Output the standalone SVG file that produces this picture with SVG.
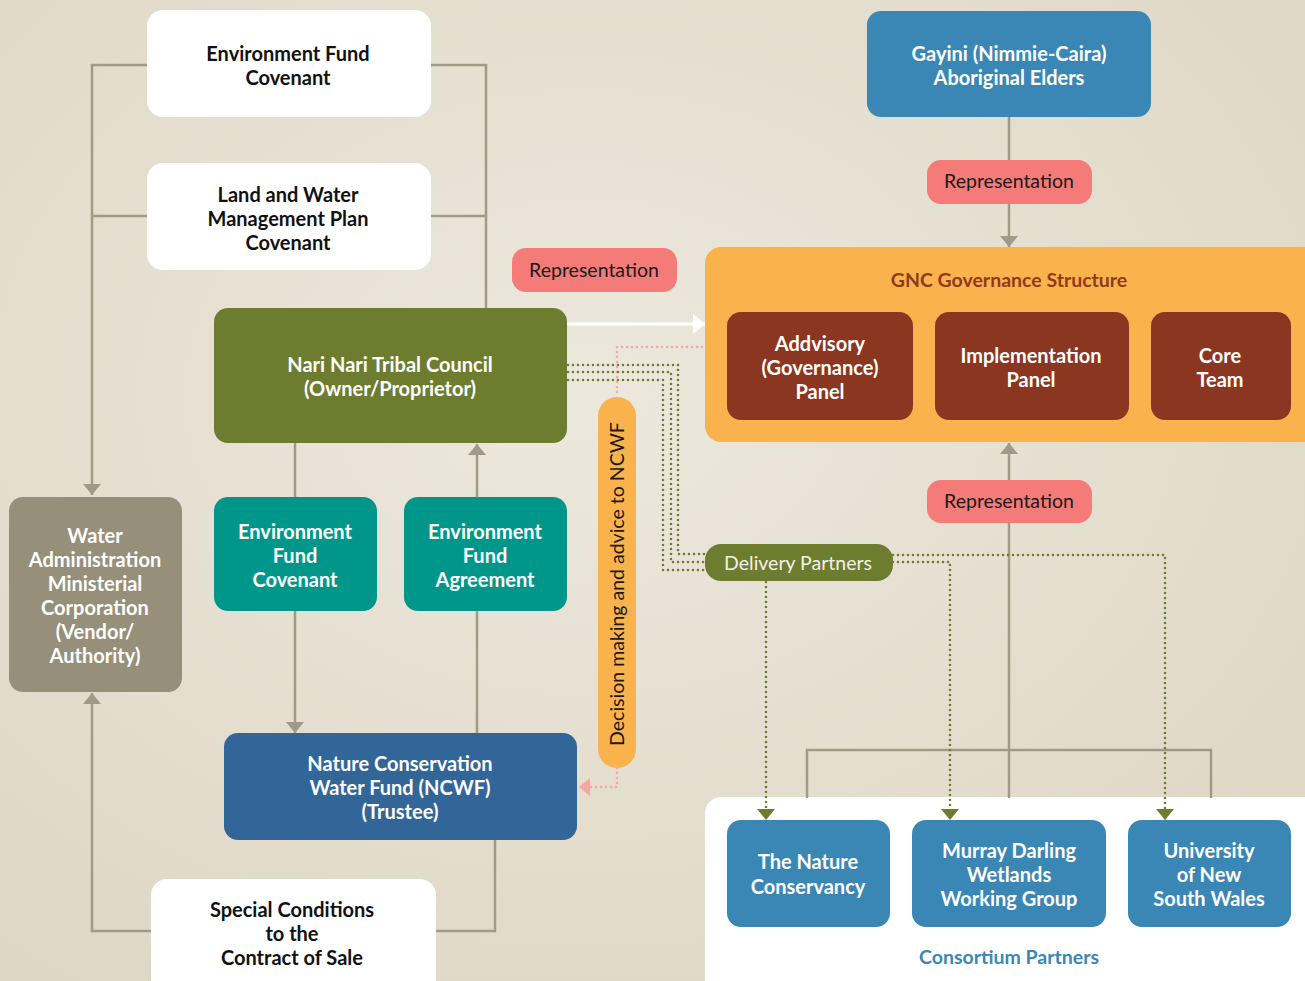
<svg xmlns="http://www.w3.org/2000/svg" width="1305" height="981" viewBox="0 0 1305 981">
<defs>
<style>
text{font-family:Lato,"Open Sans","Liberation Sans",sans-serif;text-anchor:middle}
.b{font-weight:700;font-size:20px}
.w{fill:#ffffff}
.k{fill:#111111}
.r{font-size:19.5px;fill:#1a1a1a}
.gl{fill:none;stroke:#a09b86;stroke-width:2.5}
.gd{fill:none;stroke:#6e7c2f;stroke-width:2.6;stroke-dasharray:0 5;stroke-linecap:round}
.pd{fill:none;stroke:#f6a7a4;stroke-width:2.6;stroke-dasharray:0 5;stroke-linecap:round}
</style>
<marker id="ag" markerUnits="userSpaceOnUse" markerWidth="12" markerHeight="20" refX="11" refY="9" orient="auto"><path d="M0,0 L11,9 L0,18 z" fill="#a09b86"/></marker>
<marker id="agr" markerUnits="userSpaceOnUse" markerWidth="12" markerHeight="20" refX="11" refY="9" orient="auto"><path d="M0,0 L11,9 L0,18 z" fill="#6e7c2f"/></marker>
<marker id="ap" markerUnits="userSpaceOnUse" markerWidth="12" markerHeight="20" refX="11" refY="9" orient="auto"><path d="M0,0 L11,9 L0,18 z" fill="#f6a7a4"/></marker>
<marker id="aw" markerUnits="userSpaceOnUse" markerWidth="13" markerHeight="22" refX="12" refY="10" orient="auto"><path d="M0,0 L12,10 L0,20 z" fill="#ffffff"/></marker>
<radialGradient id="bg" cx="0.45" cy="0.4" r="0.8"><stop offset="0" stop-color="#ece8dd"/><stop offset="1" stop-color="#ddd5c3"/></radialGradient>
</defs>
<rect width="1305" height="981" fill="url(#bg)"/>

<g id="consortium-partners">
<rect x="705" y="797" width="640" height="220" rx="16" fill="#ffffff"/>
<text x="1009" y="964" style="font-weight:700;font-size:19.5px;fill:#3a87b5">Consortium Partners</text>
</g>

<g id="connectors">
<path class="gl" d="M147,65 H92 V495" marker-end="url(#ag)"/>
<path class="gl" d="M147,216 H92"/>
<path class="gl" d="M431,65 H486 V308"/>
<path class="gl" d="M431,216 H486"/>
<path class="gl" d="M295,443 V733" marker-end="url(#ag)"/>
<path class="gl" d="M477,733 V444" marker-end="url(#ag)"/>
<path class="gl" d="M495,840 V931 H436"/>
<path class="gl" d="M151,931 H92 V693" marker-end="url(#ag)"/>
<path class="gl" d="M1009,117 V247" marker-end="url(#ag)"/>
<path class="gl" d="M1009,798 V443" marker-end="url(#ag)"/>
<path class="gl" d="M807,798 V750 H1211 V798"/>
<path d="M567,324 H705" fill="none" stroke="#ffffff" stroke-width="3" marker-end="url(#aw)"/>
<path class="pd" d="M717,347 H617 V397"/>
<path class="pd" d="M617,768 V787 H579" marker-end="url(#ap)"/>
<path class="gd" d="M568,365 H678 V554 H705"/>
<path class="gd" d="M568,372 H671 V562 H705"/>
<path class="gd" d="M568,380 H663 V570 H705"/>
<path class="gd" d="M766,582 V820" marker-end="url(#agr)"/>
<path class="gd" d="M893,562 H950 V820" marker-end="url(#agr)"/>
<path class="gd" d="M893,555 H1165 V820" marker-end="url(#agr)"/>
</g>

<g id="env-fund-covenant-top">
<rect x="147" y="10" width="284" height="107" rx="16" fill="#ffffff"/>
<text class="b k" x="288" y="61">Environment Fund</text>
<text class="b k" x="288" y="85">Covenant</text>
</g>

<g id="land-water-covenant">
<rect x="147" y="163" width="284" height="107" rx="16" fill="#ffffff"/>
<text class="b k" x="288" y="202">Land and Water</text>
<text class="b k" x="288" y="226">Management Plan</text>
<text class="b k" x="288" y="250">Covenant</text>
</g>

<g id="representation-left">
<rect x="512" y="248" width="165" height="44" rx="14" fill="#f47b78"/>
<text class="r" x="594" y="277">Representation</text>
</g>

<g id="nari-nari">
<rect x="214" y="308" width="353" height="135" rx="14" fill="#6e7c2f"/>
<text class="b w" x="390" y="372">Nari Nari Tribal Council</text>
<text class="b w" x="390" y="396">(Owner/Proprietor)</text>
</g>

<g id="gayini">
<rect x="867" y="11" width="284" height="106" rx="14" fill="#3a87b5"/>
<text class="b w" x="1009" y="61">Gayini (Nimmie-Caira)</text>
<text class="b w" x="1009" y="85">Aboriginal Elders</text>
</g>

<g id="representation-top">
<rect x="927" y="160" width="165" height="44" rx="14" fill="#f47b78"/>
<text class="r" x="1009" y="188">Representation</text>
</g>

<g id="gnc-governance">
<rect x="705" y="247" width="620" height="195" rx="16" fill="#f9b24c"/>
<text x="1009" y="287" style="font-weight:700;font-size:19.5px;fill:#8e3a1e">GNC Governance Structure</text>
</g>

<g id="advisory-panel">
<rect x="727" y="312" width="186" height="108" rx="14" fill="#8b3620"/>
<text class="b w" x="820" y="351">Addvisory</text>
<text class="b w" x="820" y="375">(Governance)</text>
<text class="b w" x="820" y="399">Panel</text>
</g>

<g id="implementation-panel">
<rect x="935" y="312" width="194" height="108" rx="14" fill="#8b3620"/>
<text class="b w" x="1031" y="363">Implementation</text>
<text class="b w" x="1031" y="387">Panel</text>
</g>

<g id="core-team">
<rect x="1151" y="312" width="140" height="108" rx="14" fill="#8b3620"/>
<text class="b w" x="1220" y="363">Core</text>
<text class="b w" x="1220" y="387">Team</text>
</g>

<g id="representation-bottom">
<rect x="927" y="480" width="165" height="43" rx="14" fill="#f47b78"/>
<text class="r" x="1009" y="508">Representation</text>
</g>

<g id="decision-making">
<rect x="598" y="397" width="38" height="371" rx="19" fill="#f9b24c"/>
<text class="r" transform="translate(624,584) rotate(-90)" x="0" y="0">Decision making and advice to NCWF</text>
</g>

<g id="delivery-partners">
<rect x="705" y="544" width="188" height="37" rx="16" fill="#6e7c2f"/>
<text x="798" y="570" style="font-size:19.5px;fill:#f4f1e6">Delivery Partners</text>
</g>

<g id="water-admin">
<rect x="9" y="497" width="173" height="195" rx="14" fill="#96907a"/>
<text class="b w" x="95" y="543">Water</text>
<text class="b w" x="95" y="567">Administration</text>
<text class="b w" x="95" y="591">Ministerial</text>
<text class="b w" x="95" y="615">Corporation</text>
<text class="b w" x="95" y="639">(Vendor/</text>
<text class="b w" x="95" y="663">Authority)</text>
</g>

<g id="env-fund-covenant">
<rect x="214" y="497" width="163" height="114" rx="14" fill="#00978a"/>
<text class="b w" x="295" y="539">Environment</text>
<text class="b w" x="295" y="563">Fund</text>
<text class="b w" x="295" y="587">Covenant</text>
</g>

<g id="env-fund-agreement">
<rect x="404" y="497" width="163" height="114" rx="14" fill="#00978a"/>
<text class="b w" x="485" y="539">Environment</text>
<text class="b w" x="485" y="563">Fund</text>
<text class="b w" x="485" y="587">Agreement</text>
</g>

<g id="ncwf">
<rect x="224" y="733" width="353" height="107" rx="14" fill="#326699"/>
<text class="b w" x="400" y="771">Nature Conservation</text>
<text class="b w" x="400" y="795">Water Fund (NCWF)</text>
<text class="b w" x="400" y="819">(Trustee)</text>
</g>

<g id="special-conditions">
<rect x="151" y="879" width="285" height="130" rx="16" fill="#ffffff"/>
<text class="b k" x="292" y="917">Special Conditions</text>
<text class="b k" x="292" y="941">to the</text>
<text class="b k" x="292" y="965">Contract of Sale</text>
</g>

<g id="nature-conservancy">
<rect x="727" y="820" width="163" height="107" rx="14" fill="#3a87b5"/>
<text class="b w" x="808" y="869">The Nature</text>
<text class="b w" x="808" y="894">Conservancy</text>
</g>

<g id="murray-darling">
<rect x="912" y="820" width="194" height="107" rx="14" fill="#3a87b5"/>
<text class="b w" x="1009" y="858">Murray Darling</text>
<text class="b w" x="1009" y="882">Wetlands</text>
<text class="b w" x="1009" y="906">Working Group</text>
</g>

<g id="unsw">
<rect x="1128" y="820" width="163" height="107" rx="14" fill="#3a87b5"/>
<text class="b w" x="1209" y="858">University</text>
<text class="b w" x="1209" y="882">of New</text>
<text class="b w" x="1209" y="906">South Wales</text>
</g>
</svg>
